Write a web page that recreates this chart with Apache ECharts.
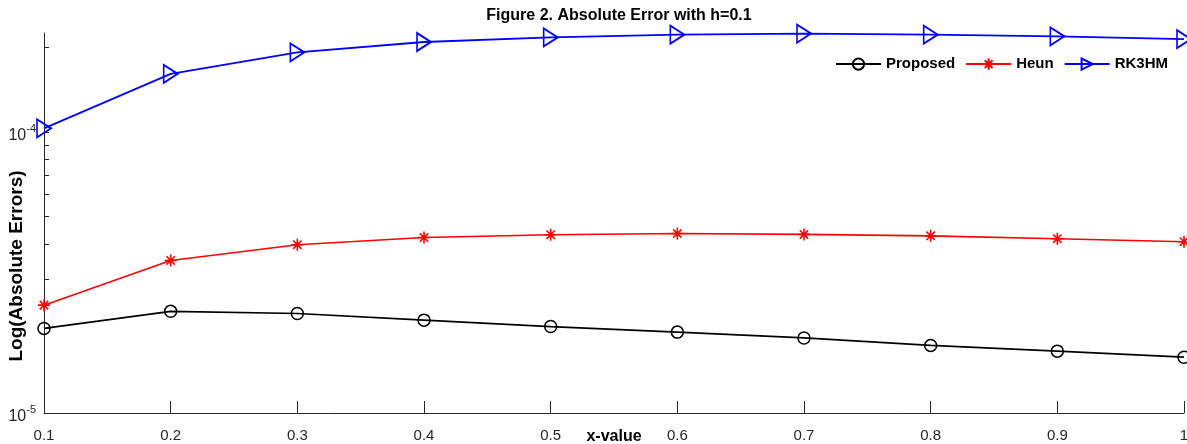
<!DOCTYPE html>
<html>
<head>
<meta charset="utf-8">
<script src="https://cdn.jsdelivr.net/npm/echarts@6/dist/echarts.min.js"></script>
<style>
html,body{margin:0;padding:0;background:#fff;}
#chart{width:1187px;height:444px;}
</style>
</head>
<body>
<div id="chart"></div>
<script>
const xValues = [0.1, 0.2, 0.3, 0.4, 0.5, 0.6, 0.7, 0.8, 0.9, 1.0];
const proposed = [2.00e-5, 2.30e-5, 2.26e-5, 2.14e-5, 2.03e-5, 1.94e-5, 1.85e-5, 1.74e-5, 1.66e-5, 1.58e-5];
const heun = [2.42e-5, 3.49e-5, 3.97e-5, 4.21e-5, 4.31e-5, 4.35e-5, 4.32e-5, 4.27e-5, 4.17e-5, 4.07e-5];
const rk3hm = [1.03e-4, 1.61e-4, 1.92e-4, 2.09e-4, 2.17e-4, 2.22e-4, 2.24e-4, 2.22e-4, 2.19e-4, 2.14e-4];
const yMajorTicks = [1e-5, 1e-4];
const yMinorTicks = [1e-5, 2e-5, 3e-5, 4e-5, 5e-5, 6e-5, 7e-5, 8e-5, 9e-5, 1e-4, 2e-4];

const font = 'Arial, "Liberation Sans", Helvetica, sans-serif';
const axisColor = '#262626';

function pairs(ys) { return xValues.map((x, i) => [x, ys[i]]); }

const chart = echarts.init(document.getElementById('chart'), null, {renderer: 'canvas'});
chart.setOption({
  animation: false,
  backgroundColor: '#fff',
  title: {
    text: 'Figure 2. Absolute Error with h=0.1',
    left: 614, top: 3, textAlign: 'center',
    textStyle: {fontFamily: font, fontSize: 16, fontWeight: 'bold', color: '#000'}
  },
  legend: {
    left: 835, top: 56, padding: 0,
    itemWidth: 45, itemHeight: 14, itemGap: 10,
    textStyle: {fontFamily: font, fontSize: 15, fontWeight: 'bold', color: '#000'},
    data: ['Proposed', 'Heun', 'RK3HM']
  },
  grid: {left: 44, right: 3, top: 33, bottom: 31, containLabel: false, outerBoundsMode: 'none'},
  xAxis: {
    type: 'value', min: 0.1, max: 1, interval: 0.1,
    name: 'x-value', nameLocation: 'middle', nameGap: 16, nameMoveOverlap: false,
    nameTextStyle: {fontFamily: font, fontSize: 16, fontWeight: 'bold', color: '#000'},
    axisLine: {lineStyle: {color: axisColor, width: 1}},
    axisTick: {inside: true, length: 12, lineStyle: {color: axisColor}},
    axisLabel: {
      margin: 15, fontFamily: font, fontSize: 15, color: axisColor,
      formatter: v => (Math.abs(v - 1) < 1e-9 ? '1' : v.toFixed(1))
    },
    splitLine: {show: false}
  },
  yAxis: {
    type: 'log', logBase: 10, min: 1e-5, max: 2.25e-4,
    name: 'Log(Absolute Errors)', nameLocation: 'middle', nameGap: 18, nameRotate: 90, nameMoveOverlap: false,
    nameTextStyle: {fontFamily: font, fontSize: 19, fontWeight: 'bold', color: '#000', padding: [0, 86, 0, 0]},
    axisLine: {show: true, lineStyle: {color: axisColor, width: 1}},
    axisTick: {show: true, inside: true, length: 5, lineStyle: {color: axisColor}, customValues: yMinorTicks},
    axisLabel: {
      margin: 8, fontFamily: font, color: axisColor,
      customValues: yMajorTicks,
      formatter: v => '{b|10}{s|' + Math.round(Math.log10(v)) + '}',
      rich: {
        b: {fontFamily: font, fontSize: 16, color: axisColor, padding: [8, 0, 0, 0]},
        s: {fontFamily: font, fontSize: 11, color: axisColor, padding: [0, 0, 6, 0]}
      }
    },
    splitLine: {show: false}
  },
  series: [
    {
      name: 'Proposed', type: 'line', data: pairs(proposed), clip: false,
      symbol: 'circle', symbolSize: 12,
      itemStyle: {color: 'none', borderColor: '#000', borderWidth: 1.5},
      lineStyle: {color: '#000', width: 1.6}
    },
    {
      name: 'Heun', type: 'line', data: pairs(heun), clip: false,
      symbol: 'path://M0,6 L12,6 M6,0 L6,12 M1.8,1.8 L10.2,10.2 M10.2,1.8 L1.8,10.2', symbolSize: 12,
      itemStyle: {color: 'none', borderColor: '#ff0000', borderWidth: 1.6},
      lineStyle: {color: '#ff0000', width: 1.6}
    },
    {
      name: 'RK3HM', type: 'line', data: pairs(rk3hm), clip: false,
      symbol: 'path://M0,0 L12,7 L0,14 Z', symbolSize: [14, 18],
      itemStyle: {color: 'none', borderColor: '#0000ff', borderWidth: 1.8},
      lineStyle: {color: '#0000ff', width: 1.8}
    }
  ]
});
</script>
</body>
</html>
